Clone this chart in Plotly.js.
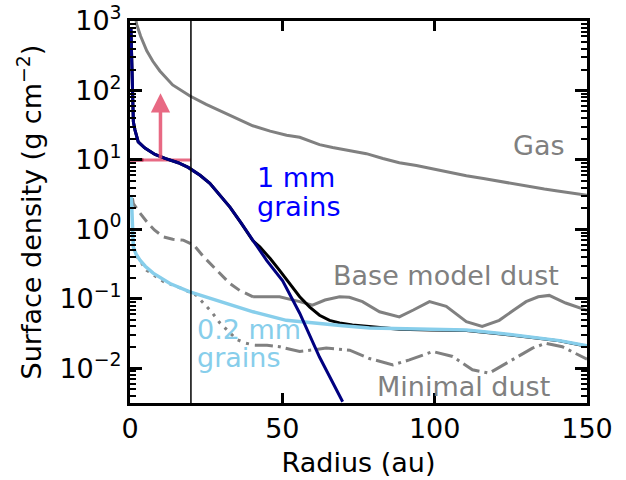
<!DOCTYPE html>
<html>
<head>
<meta charset="utf-8">
<script src="https://cdn.plot.ly/plotly-3.0.1.min.js"></script>
<style>html,body{margin:0;padding:0;background:#fff;}#chart{width:626px;height:480px;}</style>
</head>
<body>
<div id="chart"></div>
<script>
// ---- Data ----
const gasR = [2.0, 2.2, 3.5, 5.5, 7.5, 9.8, 14, 19.7, 25, 29.5, 35, 40.3, 46, 51.4, 55.7, 62.2, 66.5, 72, 77.6, 83, 88.4, 94, 99.2, 105, 110.4, 116, 121.2, 127, 132, 136, 139.8, 145, 150];
const gasSigma = [1000, 891, 603, 372, 263, 191, 120, 83, 63, 51, 40, 31, 26, 22.6, 21.2, 16.6, 15.1, 13.5, 12.3, 10.5, 9.1, 8.3, 7.4, 6.6, 5.9, 5.4, 4.9, 4.5, 4.0, 3.8, 3.6, 3.3, 3.1];

const mm1R = [0.3, 0.6, 1.1, 1.64, 2.7, 4.9, 8.2, 11.5, 15.8, 19.1, 23, 26.2, 30, 32.8, 36.5, 40.3, 44.9, 50.1, 55.7, 62.2, 66, 69.8];
const mm1Sigma = [794, 214, 35.5, 26.9, 18.2, 14.8, 12.0, 10.5, 9.1, 7.8, 6.0, 4.6, 2.95, 2.09, 1.23, 0.69, 0.355, 0.182, 0.062, 0.0145, 0.0068, 0.0033];

const totalR = [0.3, 0.6, 1.1, 1.64, 2.7, 4.9, 8.2, 11.5, 15.8, 19.1, 23, 26.2, 30, 32.8, 36.5, 40.3, 42.6, 46, 49.1, 52.5, 55.7, 59, 62.2, 65.5, 68.8, 73, 78.6, 85, 88.4, 99, 110.4, 121, 132, 141, 150];
const totalSigma = [794, 214, 35.5, 26.9, 18.2, 14.8, 12.0, 10.5, 9.1, 7.8, 6.0, 4.6, 2.95, 2.09, 1.23, 0.69, 0.56, 0.38, 0.257, 0.163, 0.107, 0.076, 0.058, 0.049, 0.045, 0.042, 0.040, 0.038, 0.0365, 0.0355, 0.035, 0.0315, 0.0278, 0.0248, 0.0208];

const mm02R = [0.3, 0.56, 1.08, 2, 3.28, 5, 7.6, 10, 13.1, 19.65, 29.5, 40.4, 51.3, 55.7, 62.2, 69.9, 78.6, 88.4, 99, 110.4, 121, 132, 141, 150];
const mm02Sigma = [3.0, 2.2, 0.56, 0.44, 0.36, 0.295, 0.234, 0.20, 0.166, 0.126, 0.091, 0.065, 0.049, 0.047, 0.043, 0.041, 0.038, 0.037, 0.036, 0.0355, 0.032, 0.028, 0.025, 0.021];

const baseInnerR = [0.8, 1.08, 3, 5.5, 8, 10.9, 14, 17.5, 21, 24, 28.4, 32.8, 36, 40.4];
const baseInnerSigma = [2.8, 2.35, 1.78, 1.29, 0.98, 0.78, 0.72, 0.70, 0.59, 0.41, 0.26, 0.166, 0.132, 0.107];
const baseOuterR = [40.4, 45, 49.1, 55.7, 59.9, 64, 68.8, 72, 76.3, 81.9, 88.4, 93, 98.3, 103.8, 110.4, 115.6, 121.2, 126, 130, 134, 137.6, 143, 150];
const baseOuterSigma = [0.107, 0.108, 0.107, 0.091, 0.081, 0.096, 0.107, 0.105, 0.091, 0.065, 0.055, 0.069, 0.091, 0.078, 0.047, 0.040, 0.049, 0.069, 0.091, 0.107, 0.112, 0.087, 0.068];

const minInnerR = [2, 5.5, 10.9, 17.5, 21.8, 25.1, 27, 29.5, 32.8, 35, 38, 41];
const minInnerSigma = [0.42, 0.257, 0.178, 0.138, 0.112, 0.079, 0.063, 0.045, 0.032, 0.026, 0.023, 0.0214];
const minOuterR = [41, 45, 49.1, 55.7, 64.4, 72.1, 78.6, 86.3, 91.7, 99.4, 105.9, 112.4, 117.9, 125.5, 132.1, 136.5, 141.9, 150];
const minOuterSigma = [0.0214, 0.0214, 0.0204, 0.0174, 0.0195, 0.0182, 0.0138, 0.0112, 0.0132, 0.0174, 0.0148, 0.0095, 0.0085, 0.0132, 0.0195, 0.0229, 0.0204, 0.0135];

const limitR = [0, 20];          // horizontal threshold segment
const limitSigma = [10, 10];
const limitDarkR = [0, 4.4];
const limitDarkSigma = [10, 10];
const cutR = 20;                 // vertical marker line
const arrowR = 10;
const arrowFromLog = 1;          // log10(Sigma) of arrow tail
const arrowToLog = 1.96;         // log10(Sigma) of arrow tip

const xTicks = [0, 50, 100, 150];
const yTicks = [1e-2, 1e-1, 1e0, 1e1, 1e2, 1e3];
const yTickText = ['10<sup>−2</sup>', '10<sup>−1</sup>', '10<sup>0</sup>', '10<sup>1</sup>', '10<sup>2</sup>', '10<sup>3</sup>'];

// labels: [text, r, log10 Sigma, color, anchor]
const labelGas = ['Gas', 143.5, 1.21, '#808080', 'right'];
const label1a = ['1 mm', 40.9, 0.74, '#0000ff', 'left'];
const label1b = ['grains', 40.9, 0.33, '#0000ff', 'left'];
const labelBase = ['Base model dust', 66.1, -0.66, '#808080', 'left'];
const label02a = ['0.2 mm', 21.3, -1.44, '#87ceeb', 'left'];
const label02b = ['grains', 21.3, -1.85, '#87ceeb', 'left'];
const labelMin = ['Minimal dust', 80.3, -2.26, '#808080', 'left'];

// ---- Build ----
const F = 'DejaVu Sans, sans-serif';
const FS = 27;
function line(x, y, color, width, dash) {
  return {x: x, y: y, type: 'scatter', mode: 'lines', hoverinfo: 'skip',
          line: {color: color, width: width, dash: dash || 'solid'}};
}
const traces = [
  line(limitR, limitSigma, 'rgba(228,80,110,0.85)', 3),
  line(limitDarkR, limitDarkSigma, '#a0183c', 3),
  line(gasR, gasSigma, '#808080', 3),
  line(baseInnerR, baseInnerSigma, '#808080', 3, '11px,6px'),
  line(baseOuterR, baseOuterSigma, '#808080', 3),
  line(minInnerR, minInnerSigma, '#808080', 3, '3px,6px'),
  line(minOuterR, minOuterSigma, '#808080', 3, '18px,5px,3px,5px'),
  line(totalR, totalSigma, '#000000', 3),
  line(mm02R, mm02Sigma, '#87ceeb', 3.5),
  line(mm1R, mm1Sigma, '#000080', 3)
];

const minorVals = [];
for (let e = -3; e <= 2; e++) { for (let m = 2; m <= 9; m++) minorVals.push(m * Math.pow(10, e)); }

const labels = [labelGas, label1a, label1b, labelBase, label02a, label02b, labelMin].map(l => ({
  text: l[0], x: l[1], y: l[2], xref: 'x', yref: 'y', showarrow: false,
  xanchor: l[4], yanchor: 'middle', font: {family: F, size: FS, color: l[3]}
}));
labels.push({
  x: arrowR, y: arrowToLog, ax: arrowR, ay: arrowFromLog, xref: 'x', yref: 'y', axref: 'x', ayref: 'y',
  showarrow: true, arrowhead: 2, arrowsize: 1.1, arrowwidth: 3.5, arrowcolor: 'rgba(228,80,110,0.85)',
  text: '', standoff: 0, startstandoff: 0
});

const layout = {
  width: 626, height: 480,
  margin: {l: 130, r: 39, t: 21, b: 77, pad: 0},
  paper_bgcolor: '#fff', plot_bgcolor: '#fff',
  showlegend: false,
  font: {family: F, size: FS, color: '#000'},
  xaxis: {
    range: [0, 150], tickmode: 'array', tickvals: xTicks, ticktext: xTicks.map(String),
    ticks: 'inside', ticklen: 10, tickwidth: 3, tickcolor: '#000',
    showline: true, linewidth: 3, linecolor: '#000', mirror: 'allticks',
    showgrid: false, zeroline: false,
    tickfont: {family: F, size: FS, color: '#000'},
    title: {text: 'Radius (au)', font: {family: F, size: FS, color: '#000'}, standoff: 10}
  },
  yaxis: {
    type: 'log', range: [-2.5, 3], tickmode: 'array', tickvals: yTicks, ticktext: yTickText,
    ticks: 'inside', ticklen: 12, tickwidth: 3, tickcolor: '#000',
    minor: {tickmode: 'array', tickvals: minorVals, ticks: 'inside', ticklen: 6, tickwidth: 2, tickcolor: '#000', showgrid: false},
    showline: true, linewidth: 3, linecolor: '#000', mirror: 'allticks',
    showgrid: false, zeroline: false,
    tickfont: {family: F, size: FS, color: '#000'},
    title: {text: 'Surface density (g cm<sup>−2</sup>)', font: {family: F, size: FS, color: '#000'}, standoff: 10}
  },
  shapes: [{type: 'line', xref: 'x', yref: 'paper', x0: cutR, x1: cutR, y0: 0, y1: 1,
            line: {color: '#000', width: 1.5}, layer: 'above'}],
  annotations: labels
};
Plotly.newPlot('chart', traces, layout, {staticPlot: true, displayModeBar: false});
</script>
</body>
</html>
